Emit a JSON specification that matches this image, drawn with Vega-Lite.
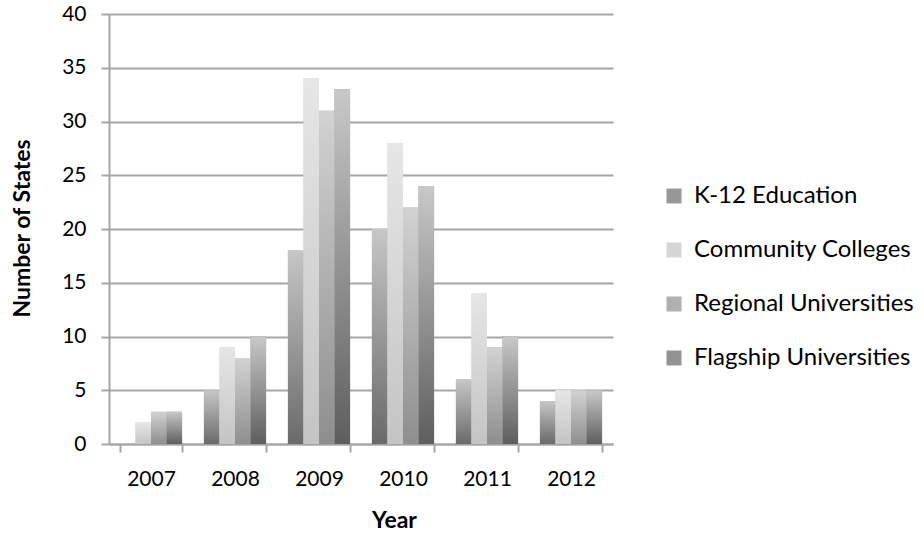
{
  "$schema": "https://vega.github.io/schema/vega-lite/v6.json",
  "width": 504,
  "height": 430,
  "autosize": {"type": "none"},
  "padding": {"left": 109, "top": 14, "right": 311, "bottom": 92},
  "background": "white",
  "config": {
    "view": {"stroke": null},
    "font": "Lato"
  },
  "data": {
    "values": [
      {"year": "2007", "sector": "K-12 Education", "states": 0},
      {"year": "2007", "sector": "Community Colleges", "states": 2},
      {"year": "2007", "sector": "Regional Universities", "states": 3},
      {"year": "2007", "sector": "Flagship Universities", "states": 3},
      {"year": "2008", "sector": "K-12 Education", "states": 5},
      {"year": "2008", "sector": "Community Colleges", "states": 9},
      {"year": "2008", "sector": "Regional Universities", "states": 8},
      {"year": "2008", "sector": "Flagship Universities", "states": 10},
      {"year": "2009", "sector": "K-12 Education", "states": 18},
      {"year": "2009", "sector": "Community Colleges", "states": 34},
      {"year": "2009", "sector": "Regional Universities", "states": 31},
      {"year": "2009", "sector": "Flagship Universities", "states": 33},
      {"year": "2010", "sector": "K-12 Education", "states": 20},
      {"year": "2010", "sector": "Community Colleges", "states": 28},
      {"year": "2010", "sector": "Regional Universities", "states": 22},
      {"year": "2010", "sector": "Flagship Universities", "states": 24},
      {"year": "2011", "sector": "K-12 Education", "states": 6},
      {"year": "2011", "sector": "Community Colleges", "states": 14},
      {"year": "2011", "sector": "Regional Universities", "states": 9},
      {"year": "2011", "sector": "Flagship Universities", "states": 10},
      {"year": "2012", "sector": "K-12 Education", "states": 4},
      {"year": "2012", "sector": "Community Colleges", "states": 5},
      {"year": "2012", "sector": "Regional Universities", "states": 5},
      {"year": "2012", "sector": "Flagship Universities", "states": 5}
    ]
  },
  "encoding": {
    "x": {
      "field": "year",
      "type": "nominal",
      "scale": {"domain": ["2007", "2008", "2009", "2010", "2011", "2012"], "paddingInner": 0.26, "paddingOuter": 0.13},
      "axis": {
        "title": "Year",
        "titleFont": "Lato",
        "titleFontSize": 23,
        "titleFontWeight": "bold",
        "titleColor": "black",
        "titleX": 285,
        "titleY": 76,
        "titleBaseline": "middle",
        "labelAngle": 0,
        "labelFontSize": 21,
        "labelColor": "black",
        "labelPadding": 16,
        "tickBand": "extent",
        "tickSize": 8,
        "tickWidth": 2,
        "tickColor": "#a6a6a6",
        "domainColor": "#a6a6a6",
        "domainWidth": 2,
        "grid": false
      }
    },
    "xOffset": {
      "field": "sector",
      "type": "nominal",
      "scale": {"domain": ["K-12 Education", "Community Colleges", "Regional Universities", "Flagship Universities"], "paddingInner": 0, "paddingOuter": 0}
    },
    "y": {
      "field": "states",
      "type": "quantitative",
      "scale": {"domain": [0, 40], "nice": false},
      "axis": {
        "title": "Number of States",
        "titleFont": "Lato",
        "titleFontSize": 23,
        "titleFontWeight": "bold",
        "titleColor": "black",
        "titleX": -87,
        "titleY": 214,
        "titleAngle": -90,
        "titleAlign": "center",
        "titleBaseline": "middle",
        "values": [0, 5, 10, 15, 20, 25, 30, 35, 40],
        "labelFontSize": 21,
        "labelColor": "black",
        "labelPadding": 15,
        "tickSize": 8,
        "tickWidth": 2,
        "tickColor": "#a6a6a6",
        "domainColor": "#a6a6a6",
        "domainWidth": 2,
        "grid": true,
        "gridColor": "#a6a6a6",
        "gridWidth": 2
      }
    }
  },
  "layer": [
    {
      "mark": {"type": "bar", "stroke": null},
      "encoding": {
        "color": {
          "field": "sector",
          "type": "nominal",
          "scale": {
            "domain": ["K-12 Education", "Community Colleges", "Regional Universities", "Flagship Universities"],
            "range": ["#989898", "#d6d6d6", "#b0b0b0", "#939393"]
          },
          "legend": {
            "title": null,
            "orient": "none",
            "legendX": 553,
            "legendY": 170,
            "padding": 0,
            "symbolType": "square",
            "symbolSize": 225,
            "symbolStrokeWidth": 0,
            "symbolOpacity": 1,
            "labelFontSize": 24,
            "labelColor": "black",
            "labelOffset": 8,
            "rowPadding": 30,
            "labelLimit": 400
          }
        }
      }
    },
    {
      "transform": [{"filter": "datum.sector === 'K-12 Education'"}],
      "mark": {"type": "bar", "stroke": null, "color": {"gradient": "linear", "x1": 0, "y1": 0, "x2": 0, "y2": 1, "stops": [{"offset": 0, "color": "#c6c6c6"}, {"offset": 1, "color": "#6a6a6a"}]}}
    },
    {
      "transform": [{"filter": "datum.sector === 'Community Colleges'"}],
      "mark": {"type": "bar", "stroke": null, "color": {"gradient": "linear", "x1": 0, "y1": 0, "x2": 0, "y2": 1, "stops": [{"offset": 0, "color": "#e6e6e6"}, {"offset": 1, "color": "#c4c4c4"}]}}
    },
    {
      "transform": [{"filter": "datum.sector === 'Regional Universities'"}],
      "mark": {"type": "bar", "stroke": null, "color": {"gradient": "linear", "x1": 0, "y1": 0, "x2": 0, "y2": 1, "stops": [{"offset": 0, "color": "#d2d2d2"}, {"offset": 1, "color": "#8e8e8e"}]}}
    },
    {
      "transform": [{"filter": "datum.sector === 'Flagship Universities'"}],
      "mark": {"type": "bar", "stroke": null, "color": {"gradient": "linear", "x1": 0, "y1": 0, "x2": 0, "y2": 1, "stops": [{"offset": 0, "color": "#c8c8c8"}, {"offset": 1, "color": "#5e5e5e"}]}}
    }
  ]
}
